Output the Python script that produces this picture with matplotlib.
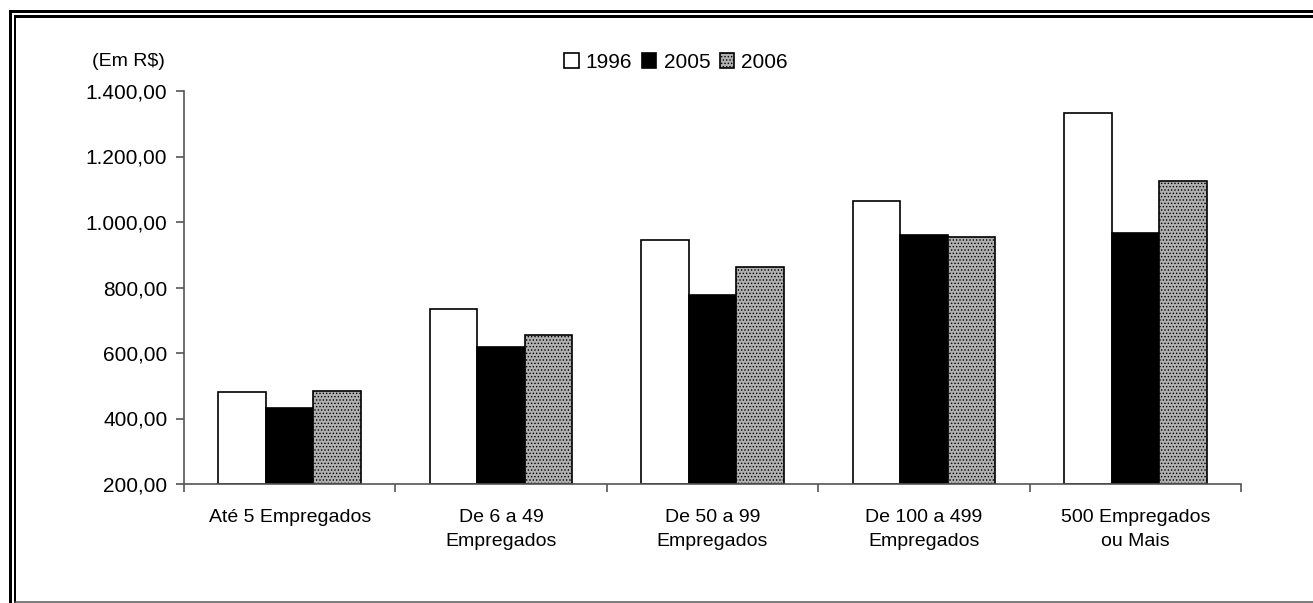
import matplotlib.pyplot as plt
import numpy as np
from matplotlib.lines import Line2D
from matplotlib.ticker import FuncFormatter

plt.rcParams['font.family'] = ['Liberation Sans', 'DejaVu Sans']
plt.rcParams['hatch.linewidth'] = 0.6
plt.rcParams['hatch.color'] = '#5a5a5a'

categorias = ['Até 5 Empregados', 'De 6 a 49\nEmpregados', 'De 50 a 99\nEmpregados',
              'De 100 a 499\nEmpregados', '500 Empregados\nou Mais']
anos = ['1996', '2005', '2006']
v1996 = [481, 733, 946, 1063, 1332]
v2005 = [432, 618, 777, 960, 966]
v2006 = [483, 656, 862, 954, 1125]

W, H = 1313, 603
fig = plt.figure(figsize=(W / 100, H / 100), dpi=100)
ax = fig.add_axes([184 / W, 1 - 484 / H, (1241 - 184) / W, (484 - 91) / H])

X = np.arange(len(categorias))
w = 0.225
estilos = [dict(color='white', hatch=None),
           dict(color='black', hatch=None),
           dict(color='#b0b0b0', hatch='.....')]
for i, vals in enumerate([v1996, v2005, v2006]):
    st = estilos[i]
    ax.bar(X + (i - 1) * w, np.array(vals) - 200, bottom=200, width=w,
           facecolor=st['color'], edgecolor='black', linewidth=1.2,
           hatch=st['hatch'], label=anos[i])

ax.set_xlim(-0.5, len(categorias) - 0.5)
ax.set_ylim(200, 1400)
ax.set_yticks(range(200, 1401, 200))
ax.yaxis.set_major_formatter(FuncFormatter(
    lambda v, p: '{:,.2f}'.format(v).replace(',', 'X').replace('.', ',').replace('X', '.')))

ax.set_xticks(X)
ax.set_xticklabels(categorias, fontsize=14, linespacing=1.55)
ax.set_xticks(np.arange(-0.5, len(categorias)), minor=True)
ax.tick_params(axis='x', which='major', length=0, pad=18)
ax.tick_params(axis='x', which='minor', length=6, width=1.2, color='#555555', direction='out')
ax.tick_params(axis='y', length=6, width=1.2, color='#555555', labelsize=15, pad=6)

for s in ['top', 'right']:
    ax.spines[s].set_visible(False)
for s in ['left', 'bottom']:
    ax.spines[s].set_color('#555555')
    ax.spines[s].set_linewidth(1.2)

fig.text(165 / W, 1 - 62 / H, '(Em R$)', ha='right', va='center', fontsize=14)

ax.legend(loc='center', bbox_to_anchor=(676 / W, 1 - 62 / H), bbox_transform=fig.transFigure,
          ncol=3, frameon=False, fontsize=15, handlelength=0.7, handleheight=0.7,
          handletextpad=0.35, columnspacing=0.45, borderpad=0)

# moldura dupla
def linha(xs, ys, lw, cor='black'):
    fig.add_artist(Line2D([x / W for x in xs], [1 - y / H for y in ys],
                          color=cor, linewidth=lw * 0.72, transform=fig.transFigure))

linha([9.5, 9.5], [10.5, 603], 3)
linha([14.5, 14.5], [15.5, 603], 2)
linha([9.5, 1313], [10.5, 10.5], 3)
linha([14.5, 1313], [15.5, 15.5], 3)
linha([14.5, 1313], [601.5, 601.5], 1.5, '#555555')

fig.savefig('out.png', dpi=100)
